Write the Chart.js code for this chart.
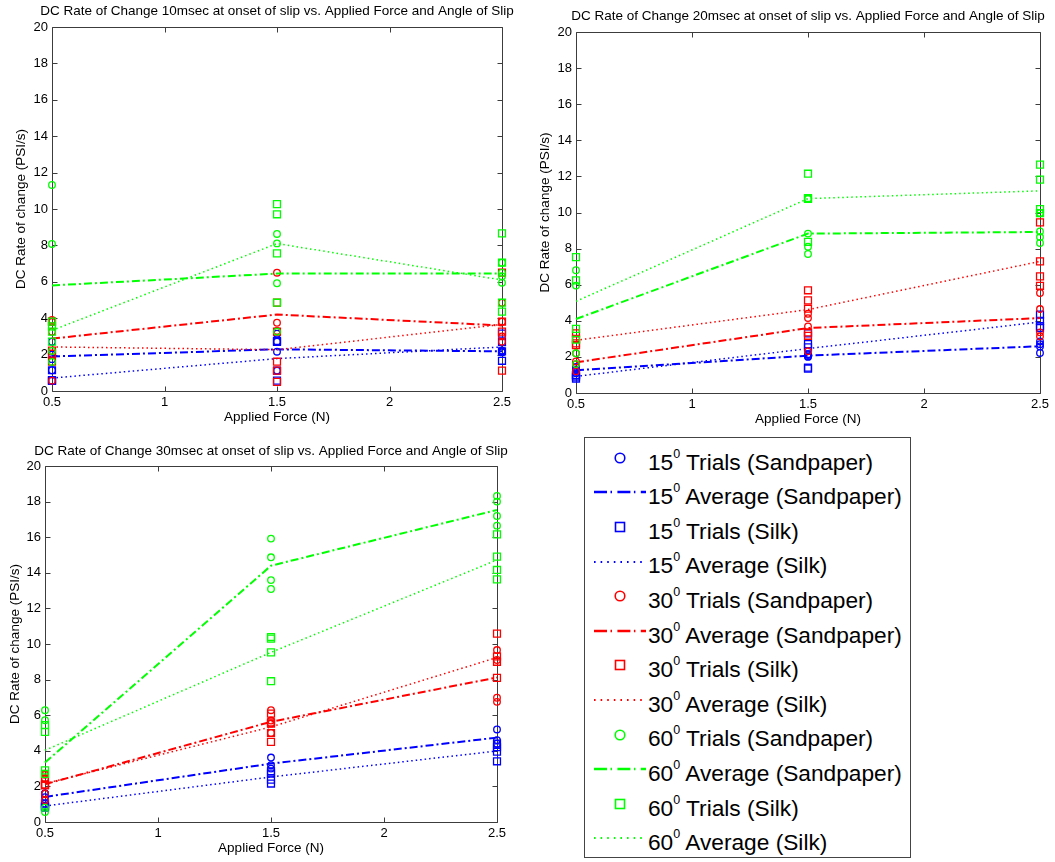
<!DOCTYPE html>
<html>
<head>
<meta charset="utf-8">
<script src="https://cdn.jsdelivr.net/npm/chart.js@4.4.1/dist/chart.umd.min.js"></script>
<style>
html,body{margin:0;padding:0;background:#fff;}
body{width:1055px;height:862px;position:relative;overflow:hidden;font-family:"Liberation Sans",Arial,sans-serif;}
canvas.cv{position:absolute;}
#legend{position:absolute;left:584px;top:437px;width:327px;height:421px;border:1px solid #444;box-sizing:border-box;background:#fff;}
.lrow-s{position:absolute;left:8px;width:56px;height:20px;}
.lrow-t{position:absolute;left:63px;font-size:22.7px;line-height:22px;white-space:nowrap;color:#000;}
.lrow-t sup{font-size:12.5px;vertical-align:12px;line-height:0;}
</style>
</head>
<body>
<canvas id="c1" class="cv" width="540" height="431" style="left:0;top:0;"></canvas>
<canvas id="c2" class="cv" width="525" height="433" style="left:530px;top:0;"></canvas>
<canvas id="c3" class="cv" width="540" height="422" style="left:0;top:440px;"></canvas>
<div id="legend"></div>
<script>
// ---------- axes / categories ----------
const forces = [0.5, 1.5, 2.5];
const xTickValues = [0.5, 1, 1.5, 2, 2.5];
const xTickLabels = ['0.5', '1', '1.5', '2', '2.5'];
const yTickValues = [0, 2, 4, 6, 8, 10, 12, 14, 16, 18, 20];
const angles = [15, 30, 60];
const xTitle = 'Applied Force (N)';
const yTitle = 'DC Rate of change (PSI/s)';
const titles = [
  'DC Rate of Change 10msec at onset of slip vs. Applied Force and Angle of Slip',
  'DC Rate of Change 20msec at onset of slip vs. Applied Force and Angle of Slip',
  'DC Rate of Change 30msec at onset of slip vs. Applied Force and Angle of Slip'
];

// ---------- 10 msec ----------  (trials per force: [0.5 N], [1.5 N], [2.5 N])
const t10_15_sand = [[2.71, 1.14, 2.0, 1.75], [2.71, 2.16, 1.12, 3.15], [2.18, 2.22, 2.12, 2.2]];
const a10_15_sand = [1.9, 2.29, 2.18];
const t10_15_silk = [[1.14, 0.57, 0.6, 0.55], [0.57, 1.12, 2.7, 2.75], [2.69, 2.18, 1.66, 3.15]];
const a10_15_silk = [0.71, 1.78, 2.42];
const t10_30_sand = [[3.26, 0.57, 3.8, 3.9], [6.5, 3.75, 3.26, 3.3], [2.71, 4.85, 3.81, 3.0]];
const a10_30_sand = [2.88, 4.2, 3.6];
const t10_30_silk = [[3.81, 2.22, 1.61, 2.05], [4.85, 3.26, 1.61, 1.12, 0.5], [6.5, 3.81, 3.26, 1.12]];
const a10_30_silk = [2.42, 2.27, 3.66];
const t10_60_sand = [[11.32, 8.08, 2.2, 1.6], [8.63, 8.11, 5.92, 3.26], [5.95, 7.05, 6.5, 6.3]];
const a10_60_sand = [5.8, 6.45, 6.45];
const t10_60_silk = [[3.81, 3.26, 2.71, 3.55], [10.27, 9.71, 7.56, 4.85], [8.66, 7.05, 4.85, 4.36]];
const a10_60_silk = [3.33, 8.1, 6.1];

// ---------- 20 msec ----------
const t20_15_sand = [[1.3, 1.2, 1.1, 1.44], [2.03, 2.1, 2.0, 2.15], [2.86, 2.58, 2.22, 2.7]];
const a20_15_sand = [1.26, 2.07, 2.59];
const t20_15_silk = [[0.8, 0.9, 1.0, 0.98], [2.71, 2.53, 1.35, 1.4, 3.3], [4.34, 4.0, 3.7, 3.6]];
const a20_15_silk = [0.92, 2.46, 3.93];
const t20_30_sand = [[1.2, 1.75, 2.2, 1.6], [4.39, 4.15, 3.69, 2.31], [5.54, 4.65, 3.36, 3.14]];
const a20_30_sand = [1.7, 3.6, 4.15];
const t20_30_silk = [[2.65, 3.3, 3.0, 2.75], [5.69, 5.13, 4.67, 3.36, 3.17], [9.45, 7.29, 6.46, 5.94]];
const a20_30_silk = [2.92, 4.62, 7.29];
const t20_60_sand = [[6.8, 5.95, 2.2, 1.6], [10.75, 8.83, 8.1, 7.7], [9.97, 8.95, 8.64, 8.31]];
const a20_60_sand = [4.1, 8.83, 8.92];
const t20_60_silk = [[7.53, 6.24, 3.55, 2.95], [12.15, 10.75, 10.8, 8.37], [12.65, 11.82, 10.19, 9.97]];
const a20_60_silk = [5.08, 10.77, 11.2];

// ---------- 30 msec ----------
const t30_15_sand = [[1.03, 1.6, 1.4, 1.6], [3.62, 3.19, 3.0], [5.2, 4.4, 4.6]];
const a30_15_sand = [1.41, 3.28, 4.74];
const t30_15_silk = [[1.03, 0.8, 0.9, 0.85], [2.72, 2.38, 2.16, 2.85], [4.4, 4.2, 3.95, 3.41]];
const a30_15_silk = [0.9, 2.53, 3.99];
const t30_30_sand = [[2.72, 2.44, 1.59, 1.22, 2.65], [6.28, 5.53, 5.0, 5.7], [9.66, 9.1, 6.98, 6.75]];
const a30_30_sand = [2.12, 5.63, 8.12];
const t30_30_silk = [[2.44, 2.1, 2.05, 2.1], [6.09, 5.53, 5.0, 4.5, 5.6], [10.58, 9.3, 9.0, 8.1]];
const a30_30_silk = [2.16, 5.34, 9.24];
const t30_60_sand = [[6.28, 5.72, 0.56, 0.8], [15.92, 14.87, 13.59, 13.09], [18.32, 18.0, 17.19, 16.65]];
const a30_60_sand = [3.34, 14.4, 17.53];
const t30_60_silk = [[5.44, 5.06, 2.9, 2.7], [10.39, 9.53, 7.91, 10.3], [16.16, 14.91, 14.16, 13.63]];
const a30_60_silk = [4.03, 9.53, 14.72];

// ---------- build ----------
const colors = ['#0000ff', '#ff0000', '#00ff00'];
const kinds = ['Trials (Sandpaper)', 'Average (Sandpaper)', 'Trials (Silk)', 'Average (Silk)'];

const panelSeries = [
  [t10_15_sand, a10_15_sand, t10_15_silk, a10_15_silk, t10_30_sand, a10_30_sand, t10_30_silk, a10_30_silk, t10_60_sand, a10_60_sand, t10_60_silk, a10_60_silk],
  [t20_15_sand, a20_15_sand, t20_15_silk, a20_15_silk, t20_30_sand, a20_30_sand, t20_30_silk, a20_30_silk, t20_60_sand, a20_60_sand, t20_60_silk, a20_60_silk],
  [t30_15_sand, a30_15_sand, t30_15_silk, a30_15_silk, t30_30_sand, a30_30_sand, t30_30_silk, a30_30_silk, t30_60_sand, a30_60_sand, t30_60_silk, a30_60_silk]
];

// layout per panel (canvas-relative chart area, title placement)
const layouts = [
  {id: 'c1', w: 540, h: 431, left: 52, top: 27, right: 502, bottom: 391, titleY: 11.7, yTitlePad: 13.6},
  {id: 'c2', w: 525, h: 433, left: 46, top: 32, right: 510, bottom: 393, titleY: 16.7, yTitlePad: 6.9},
  {id: 'c3', w: 540, h: 422, left: 45, top: 26, right: 497, bottom: 382, titleY: 11.7, yTitlePad: 7.2}
];

const DASHDOT = [8, 3, 2, 3];
const DOTTED = [1.5, 3];
const FONT = '"Liberation Sans", Arial, sans-serif';

function makeDatasets(series) {
  return series.map((arr, i) => {
    const color = colors[Math.floor(i / 4)];
    const k = i % 4;
    const order = 100 - i;
    if (k === 0 || k === 2) {
      const pts = [];
      arr.forEach((vals, fi) => vals.forEach(v => pts.push({x: forces[fi], y: v})));
      return {
        data: pts, showLine: false, order, clip: false,
        pointStyle: k === 0 ? 'circle' : 'rect',
        pointRadius: k === 0 ? 3.3 : 4.9,
        pointBorderWidth: 1.3,
        borderColor: color, pointBorderColor: color,
        backgroundColor: 'rgba(0,0,0,0)', pointBackgroundColor: 'rgba(0,0,0,0)'
      };
    }
    return {
      data: arr.map((v, fi) => ({x: forces[fi], y: v})),
      showLine: true, order, clip: false, pointRadius: 0, tension: 0,
      borderColor: color, backgroundColor: color,
      borderWidth: k === 1 ? 2 : 1.5,
      borderDash: k === 1 ? DASHDOT : DOTTED
    };
  });
}

const framePlugin = {
  id: 'frame',
  beforeDatasetsDraw(chart, args, opts) {
    const {ctx, chartArea: a, scales} = chart;
    const L = Math.round(a.left) + 0.5, R = Math.round(a.right) + 0.5;
    const T = Math.round(a.top) + 0.5, B = Math.round(a.bottom) + 0.5;
    ctx.save();
    ctx.strokeStyle = '#3c3c3c';
    ctx.lineWidth = 1;
    ctx.beginPath();
    ctx.rect(L, T, R - L, B - T);
    scales.x.ticks.forEach(t => {
      const px = Math.round(scales.x.getPixelForValue(t.value)) + 0.5;
      ctx.moveTo(px, B); ctx.lineTo(px, B - 5);
      ctx.moveTo(px, T); ctx.lineTo(px, T + 5);
    });
    scales.y.ticks.forEach(t => {
      const py = Math.round(scales.y.getPixelForValue(t.value)) + 0.5;
      ctx.moveTo(L, py); ctx.lineTo(L + 5, py);
      ctx.moveTo(R, py); ctx.lineTo(R - 5, py);
    });
    ctx.stroke();
    ctx.restore();
  },
  afterDraw(chart, args, opts) {
    const {ctx, chartArea: a} = chart;
    ctx.save();
    ctx.fillStyle = '#000';
    ctx.font = '13.5px ' + FONT;
    ctx.textAlign = 'center';
    ctx.textBaseline = 'middle';
    ctx.fillText(opts.text, (a.left + a.right) / 2, opts.y);
    ctx.restore();
  }
};

layouts.forEach((L, pi) => {
  new Chart(document.getElementById(L.id), {
    type: 'scatter',
    data: {datasets: makeDatasets(panelSeries[pi])},
    plugins: [framePlugin],
    options: {
      responsive: false, animation: false, devicePixelRatio: 1,
      events: [],
      layout: {padding: {left: 0, top: L.top, right: L.w - L.right, bottom: 0}},
      plugins: {
        legend: {display: false}, tooltip: {enabled: false},
        frame: {text: titles[pi], y: L.titleY}
      },
      scales: {
        x: {
          type: 'linear', position: 'bottom', min: 0.5, max: 2.5,
          afterBuildTicks: s => { s.ticks = xTickValues.map(v => ({value: v})); },
          afterFit: s => { s.height = L.h - L.bottom; },
          grid: {display: false, drawTicks: false}, border: {display: false},
          ticks: {
            color: '#000', font: {size: 13, family: FONT}, padding: 4, maxRotation: 0, autoSkip: false,
            callback: (v) => xTickLabels[xTickValues.indexOf(v)]
          },
          title: {display: true, text: xTitle, color: '#000', font: {size: 13.5, family: FONT}, padding: {top: 0, bottom: 5.9}}
        },
        y: {
          type: 'linear', position: 'left', min: 0, max: 20,
          afterBuildTicks: s => { s.ticks = yTickValues.map(v => ({value: v})); },
          afterFit: s => { s.width = L.left; },
          grid: {display: false, drawTicks: false}, border: {display: false},
          ticks: {color: '#000', font: {size: 13, family: FONT}, padding: 4, autoSkip: false, callback: (v) => String(v)},
          title: {display: true, text: yTitle, color: '#000', font: {size: 13.5, family: FONT}, padding: {top: L.yTitlePad, bottom: 0}}
        }
      }
    }
  });
});

// ---------- legend ----------
const legend = document.getElementById('legend');
const NS = 'http://www.w3.org/2000/svg';
for (let i = 0; i < 12; i++) {
  const color = colors[Math.floor(i / 4)];
  const k = i % 4;
  const markY = 456.7 + i * 34.6 - 437;
  const textC = 460.5 + i * 34.6 - 437;
  const svg = document.createElementNS(NS, 'svg');
  svg.setAttribute('class', 'lrow-s');
  svg.setAttribute('width', '56'); svg.setAttribute('height', '20');
  svg.style.top = (markY - 10) + 'px';
  let el;
  if (k === 0) {
    el = document.createElementNS(NS, 'circle');
    el.setAttribute('cx', '27'); el.setAttribute('cy', '10'); el.setAttribute('r', '4.8');
  } else if (k === 2) {
    el = document.createElementNS(NS, 'rect');
    el.setAttribute('x', '22.5'); el.setAttribute('y', '5.5'); el.setAttribute('width', '9'); el.setAttribute('height', '9');
  } else {
    el = document.createElementNS(NS, 'line');
    el.setAttribute('x1', '1'); el.setAttribute('x2', '53'); el.setAttribute('y1', '10'); el.setAttribute('y2', '10');
    el.setAttribute('stroke-dasharray', k === 1 ? '13 3.5 1.5 5.4' : '1.6 5');
  }
  el.setAttribute('fill', 'none');
  el.setAttribute('stroke', color);
  el.setAttribute('stroke-width', k === 1 ? '2.6' : (k === 3 ? '2' : '1.6'));
  svg.appendChild(el);
  legend.appendChild(svg);
  const t = document.createElement('div');
  t.className = 'lrow-t';
  t.style.top = (textC - 11) + 'px';
  t.innerHTML = angles[Math.floor(i / 4)] + '<sup>0</sup> ' + kinds[k];
  legend.appendChild(t);
}
</script>
</body>
</html>
